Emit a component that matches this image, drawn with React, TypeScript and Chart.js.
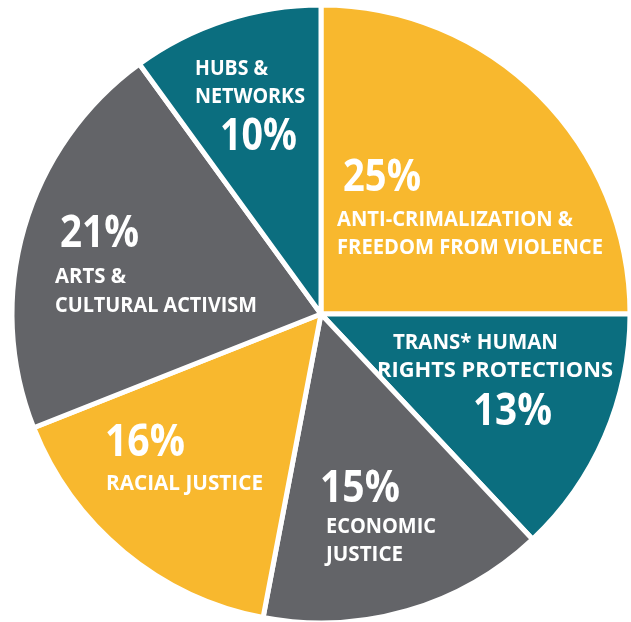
import React, { useEffect, useRef } from "react";
import { Chart, registerables } from "chart.js";

Chart.register(...registerables);

const categories = [
  "ANTI-CRIMALIZATION & FREEDOM FROM VIOLENCE",
  "TRANS* HUMAN RIGHTS PROTECTIONS",
  "ECONOMIC JUSTICE",
  "RACIAL JUSTICE",
  "ARTS & CULTURAL ACTIVISM",
  "HUBS & NETWORKS",
];
const labelLines = [
  ["ANTI-CRIMALIZATION &", "FREEDOM FROM VIOLENCE"],
  ["TRANS* HUMAN", "RIGHTS PROTECTIONS"],
  ["ECONOMIC", "JUSTICE"],
  ["RACIAL JUSTICE"],
  ["ARTS &", "CULTURAL ACTIVISM"],
  ["HUBS &", "NETWORKS"],
];
const values = [25, 13, 15, 16, 21, 10];
const colors = ["#F8B82E", "#0B6E7F", "#636468", "#F8B82E", "#636468", "#0B6E7F"];

// Text layout: offsets from pie centre (px), baseline, and target width
type Item = { dx: number; dy: number; w: number };
const pctLayout: Item[] = [
  { dx: 22, dy: -123, w: 78 },
  { dx: 152, dy: 111, w: 79 },
  { dx: -1, dy: 188, w: 80 },
  { dx: -216, dy: 142, w: 80 },
  { dx: -261, dy: -67, w: 79 },
  { dx: -101, dy: -164, w: 77 },
];
const lineLayout: Item[][] = [
  [{ dx: 16, dy: -88, w: 236 }, { dx: 16, dy: -60, w: 266 }],
  [{ dx: 72, dy: 35, w: 165 }, { dx: 56, dy: 63, w: 236 }],
  [{ dx: 5, dy: 219, w: 110 }, { dx: 5, dy: 247, w: 77 }],
  [{ dx: -215, dy: 176, w: 157 }],
  [{ dx: -266, dy: -31, w: 71 }, { dx: -266, dy: -2, w: 202 }],
  [{ dx: -126, dy: -239, w: 73 }, { dx: -126, dy: -211, w: 110 }],
];

function drawFit(ctx: CanvasRenderingContext2D, text: string, x: number, y: number, w: number) {
  const m = ctx.measureText(text).width;
  ctx.save();
  ctx.translate(x, y);
  ctx.scale(w / m, 1);
  ctx.fillText(text, 0, 0);
  ctx.restore();
}

const labelPlugin = {
  id: "sliceLabels",
  afterDraw(chart: any) {
    const meta = chart.getDatasetMeta(0);
    const arc = meta.data[0];
    if (!arc) return;
    const cx = arc.x;
    const cy = arc.y;
    const ctx: CanvasRenderingContext2D = chart.ctx;
    ctx.save();
    ctx.fillStyle = "#ffffff";
    ctx.textAlign = "left";
    ctx.textBaseline = "alphabetic";
    values.forEach((v, i) => {
      ctx.font = "bold 45px 'Open Sans', 'Noto Sans', sans-serif";
      const p = pctLayout[i];
      drawFit(ctx, `${v}%`, cx + p.dx, cy + p.dy, p.w);
      ctx.font = "bold 21px 'Open Sans', 'Noto Sans', sans-serif";
      labelLines[i].forEach((line, j) => {
        const l = lineLayout[i][j];
        drawFit(ctx, line, cx + l.dx, cy + l.dy, l.w);
      });
    });
    ctx.restore();
  },
};

export default function App() {
  const ref = useRef<HTMLCanvasElement | null>(null);
  useEffect(() => {
    if (!ref.current) return;
    const chart = new Chart(ref.current, {
      type: "pie",
      data: {
        labels: categories,
        datasets: [
          {
            data: values,
            backgroundColor: colors,
            borderColor: "#ffffff",
            borderWidth: 5,
            hoverOffset: 0,
          },
        ],
      },
      options: {
        responsive: false,
        animation: false,
        devicePixelRatio: 1,
        radius: 309,
        layout: { padding: { left: 11, right: 0, top: 6, bottom: 0 } },
        plugins: {
          legend: { display: false },
          tooltip: { enabled: false },
        },
      } as any,
      plugins: [labelPlugin],
    });
    return () => chart.destroy();
  }, []);
  return (
    <div style={{ position: "fixed", left: 0, top: 0, width: 631, height: 622, background: "#fff" }}>
      <canvas ref={ref} width={631} height={622} />
    </div>
  );
}
